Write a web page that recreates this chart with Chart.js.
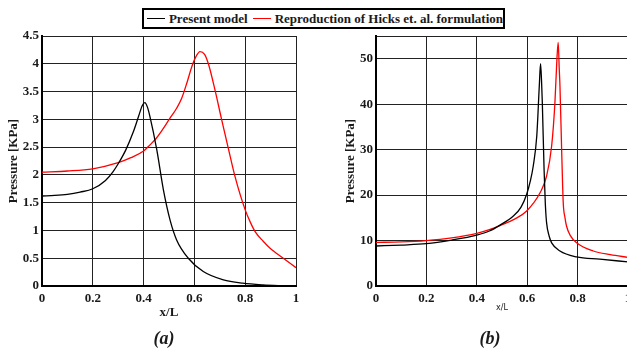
<!DOCTYPE html>
<html>
<head>
<meta charset="utf-8">
<script src="https://cdn.jsdelivr.net/npm/chart.js@4/dist/chart.umd.min.js"></script>
<style>
  html, body { margin: 0; padding: 0; background: #fff; overflow: hidden; width: 627px; height: 349px; }
  body { position: relative; font-family: "Liberation Serif", serif; color: #1a1a1a; }
  canvas { position: absolute; top: 0; }
  #chartA { left: 0; }
  #chartB { left: 320px; }
  .legend { position: absolute; left: 142px; top: 8px; width: 359px; height: 17px; border: 2px solid #000; background: #fff;
            display: flex; align-items: center; font-weight: bold; font-size: 13px; white-space: nowrap; }
  .legend .swatch { display: inline-block; width: 20px; border-top: 1.5px solid #000; margin: 0 4px 0 3px; }
  .legend .swatch.red { border-color: #ff0000; margin-left: 5px; }
  .caption { position: absolute; font-weight: bold; font-style: italic; font-size: 18px; transform: translateX(-50%); }
</style>
</head>
<body>
<canvas id="chartA" width="320" height="349"></canvas>
<canvas id="chartB" width="340" height="349"></canvas>
<div class="legend"><span class="swatch"></span>Present model<span class="swatch red"></span>Reproduction of Hicks et. al. formulation</div>
<div class="caption" style="left:164px; top:328px;">(a)</div>
<div class="caption" style="left:490px; top:328px;">(b)</div>
<script>
const seriesNames = ['Present model', 'Reproduction of Hicks et. al. formulation'];

// (a)
const aPresentX = [0, 0.05, 0.1, 0.15, 0.2, 0.25, 0.28, 0.3, 0.33, 0.36, 0.38, 0.395, 0.405, 0.415, 0.425, 0.452, 0.478, 0.504, 0.53, 0.576, 0.635, 0.714, 0.79, 0.87, 0.94, 1];
const aPresentY = [1.62, 1.63, 1.65, 1.69, 1.75, 1.9, 2.06, 2.2, 2.45, 2.78, 3.05, 3.25, 3.3, 3.22, 3.05, 2.45, 1.73, 1.19, 0.83, 0.5, 0.26, 0.11, 0.05, 0.02, 0.007, 0];
const aHicksX = [0, 0.1, 0.2, 0.3, 0.35, 0.4, 0.425, 0.45, 0.504, 0.53, 0.55, 0.57, 0.59, 0.605, 0.622, 0.64, 0.655, 0.681, 0.707, 0.734, 0.76, 0.8, 0.82, 0.839, 0.87, 0.898, 0.95, 1];
const aHicksY = [2.05, 2.07, 2.11, 2.22, 2.31, 2.43, 2.54, 2.66, 3.02, 3.2, 3.38, 3.65, 3.95, 4.12, 4.22, 4.17, 4.0, 3.53, 3.0, 2.47, 1.97, 1.37, 1.15, 0.98, 0.81, 0.68, 0.5, 0.33];
const aXTicks = [0, 0.2, 0.4, 0.6, 0.8, 1];
const aYTicks = [0, 0.5, 1, 1.5, 2, 2.5, 3, 3.5, 4, 4.5];

// (b)
const bPresentX = [0, 0.1, 0.2, 0.3, 0.4, 0.45, 0.492, 0.545, 0.575, 0.598, 0.612, 0.624, 0.638, 0.648, 0.653, 0.657, 0.66, 0.667, 0.672, 0.677, 0.687, 0.697, 0.73, 0.796, 0.888, 1];
const bPresentY = [8.8, 9.0, 9.3, 10.1, 11.2, 12.1, 13.4, 15.4, 17.3, 20.2, 23, 26.4, 33, 44, 48.9, 45, 40.3, 25.6, 18, 13.9, 11, 9.5, 7.7, 6.4, 5.9, 5.3];
const bHicksX = [0, 0.1, 0.2, 0.3, 0.4, 0.45, 0.492, 0.55, 0.598, 0.651, 0.677, 0.697, 0.71, 0.718, 0.723, 0.727, 0.73, 0.737, 0.743, 0.75, 0.756, 0.77, 0.796, 0.862, 0.93, 1];
const bHicksY = [9.6, 9.7, 10.0, 10.6, 11.6, 12.4, 13.3, 14.7, 16.5, 20.5, 24.2, 30.8, 40.3, 50, 53.6, 48, 44, 29.3, 18.3, 15, 13.2, 11.2, 9.5, 7.7, 6.9, 6.3];
const bXTicks = [0, 0.2, 0.4, 0.6, 0.8, 1];
const bYTicks = [0, 10, 20, 30, 40, 50];
const bYMax = 55;

const tickFont = { family: 'Liberation Serif', size: 13, weight: 'bold' };
const inkColor = '#1a1a1a';

function toPoints(xs, ys) {
    return xs.map((x, i) => ({ x: x, y: ys[i] }));
}

function makePlot(canvasId, cfg) {
    const ctx = document.getElementById(canvasId);
    return new Chart(ctx, {
        type: 'line',
        data: {
            datasets: [
                { label: seriesNames[0], data: toPoints(cfg.presentX, cfg.presentY), borderColor: '#000000', borderWidth: 1.3, pointRadius: 0, cubicInterpolationMode: 'monotone' },
                { label: seriesNames[1], data: toPoints(cfg.hicksX, cfg.hicksY), borderColor: '#ff0000', borderWidth: 1.3, pointRadius: 0, cubicInterpolationMode: 'monotone' }
            ]
        },
        options: {
            responsive: false,
            animation: false,
            devicePixelRatio: 1,
            layout: { padding: cfg.padding },
            plugins: { legend: { display: false }, tooltip: { enabled: false } },
            scales: {
                x: {
                    type: 'linear',
                    min: 0,
                    max: 1,
                    afterBuildTicks: (scale) => { scale.ticks = cfg.xTicks.map(v => ({ value: v })); },
                    afterFit: (scale) => { scale.height = 36; },
                    ticks: { autoSkip: false, maxRotation: 0, padding: 5, color: inkColor, font: tickFont, callback: (v) => String(v) },
                    grid: { color: '#222', lineWidth: 1, drawTicks: false },
                    border: { color: '#000', width: 2 },
                    title: { display: true, text: 'x/L', color: inkColor, font: cfg.xTitleFont, padding: { top: 0, bottom: cfg.xTitlePad } }
                },
                y: {
                    type: 'linear',
                    min: 0,
                    max: cfg.yMax,
                    afterBuildTicks: (scale) => {
                        const vals = cfg.yTicks.slice();
                        if (vals[vals.length - 1] !== cfg.yMax) vals.push(cfg.yMax);
                        scale.ticks = vals.map(v => ({ value: v }));
                    },
                    afterFit: (scale) => { scale.width = cfg.yWidth; },
                    ticks: { autoSkip: false, padding: 3, color: inkColor, font: tickFont, callback: (v) => cfg.yTicks.includes(v) ? String(v) : '' },
                    grid: { color: '#222', lineWidth: 1, drawTicks: false },
                    border: { color: '#000', width: 2 },
                    title: { display: true, text: 'Pressure [KPa]', color: inkColor, font: tickFont, padding: { top: cfg.yTitlePad, bottom: 0 } }
                }
            }
        }
    });
}

makePlot('chartA', {
    presentX: aPresentX, presentY: aPresentY, hicksX: aHicksX, hicksY: aHicksY,
    xTicks: aXTicks, yTicks: aYTicks, yMax: 4.5,
    padding: { left: 0, top: 36, right: 24, bottom: 27 },
    yWidth: 42, yTitlePad: 6,
    xTitleFont: tickFont, xTitlePad: 2
});

makePlot('chartB', {
    presentX: bPresentX, presentY: bPresentY, hicksX: bHicksX, hicksY: bHicksY,
    xTicks: bXTicks, yTicks: bYTicks, yMax: bYMax,
    padding: { left: 0, top: 36, right: 32, bottom: 27 },
    yWidth: 56, yTitlePad: 23,
    xTitleFont: { family: 'DejaVu Sans', size: 8, weight: 'normal' }, xTitlePad: 9
});
</script>
</body>
</html>
